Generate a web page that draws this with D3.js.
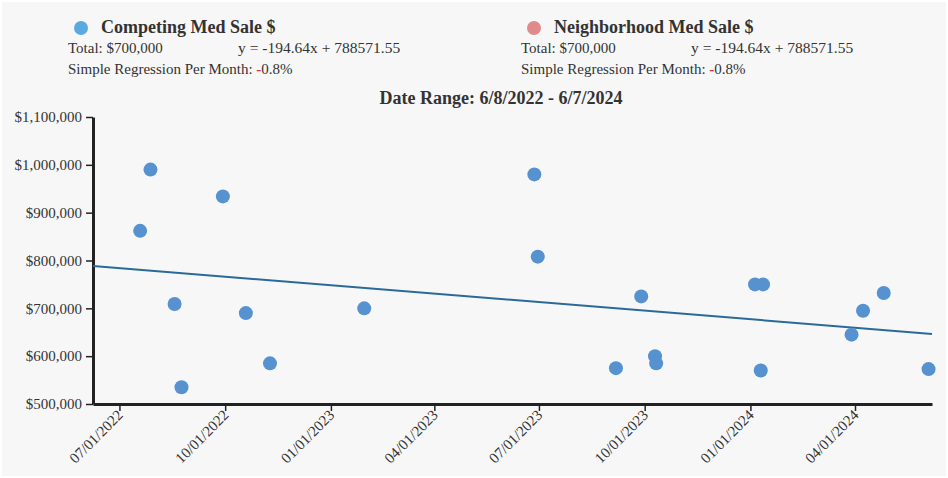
<!DOCTYPE html>
<html>
<head>
<meta charset="utf-8">
<script src="https://cdn.jsdelivr.net/npm/d3@7/dist/d3.min.js"></script>
<style>
  html, body { margin: 0; padding: 0; background: #ffffff; }
  svg { display: block; font-family: "Liberation Serif", "Times New Roman", serif; }
</style>
</head>
<body>
<svg id="chart" width="948" height="478"></svg>
<script>
// ---- data ----
const saleDates = ["2022-07-19","2022-07-28","2022-08-18","2022-08-24","2022-09-29","2022-10-19","2022-11-09",
  "2023-01-30","2023-06-27","2023-06-30","2023-09-06","2023-09-28","2023-10-10","2023-10-11",
  "2024-01-05","2024-01-12","2024-01-10","2024-03-29","2024-04-08","2024-04-26","2024-06-04"];
const salePrices = [862000,990000,709000,535000,934000,690000,585000,
  700000,980000,808000,575000,725000,600000,585000,
  750000,750000,570000,645000,695000,732000,573000];
const xTickDates = ["2022-07-01","2022-10-01","2023-01-01","2023-04-01","2023-07-01","2023-10-01","2024-01-01","2024-04-01"];
const yTickValues = [500000,600000,700000,800000,900000,1000000,1100000];
const dateRange = ["2022-06-08","2024-06-07"];
const regSlope = -194.64;        // per day
const regIntercept = 788571.55;
const seriesNames = ["Competing Med Sale $","Neighborhood Med Sale $"];
const seriesTotals = ["$700,000","$700,000"];
const seriesEquations = ["y = -194.64x + 788571.55","y = -194.64x + 788571.55"];
const seriesMonthly = ["0.8%","0.8%"];
const seriesColors = ["#5aaae0","#e08a8a"];

// ---- setup ----
const FONT = "'Liberation Serif', 'Times New Roman', serif";
const parse = d3.timeParse("%Y-%m-%d");
const svg = d3.select("#chart");
svg.append("rect").attr("x",2).attr("y",2).attr("width",944).attr("height",474).attr("fill","#f7f7f7");

const x = d3.scaleTime().domain(dateRange.map(parse)).range([93, 932]);
const y = d3.scaleLinear().domain([500000, 1100000]).range([404, 117]);

// ---- legend ----
const legendX = [68, 521];
seriesNames.forEach((name, i) => {
  const g = svg.append("g").attr("transform", `translate(${legendX[i]},0)`).attr("font-family", FONT);
  g.append("circle").attr("cx", 13).attr("cy", 28).attr("r", 7).attr("fill", seriesColors[i]);
  g.append("text").attr("x", 33).attr("y", 33).attr("font-size", 18).attr("font-weight", "bold")
    .attr("fill", "#333").text(name);
  g.append("text").attr("x", 0).attr("y", 53).attr("font-size", 15).attr("fill", "#333").text("Total: " + seriesTotals[i]);
  g.append("text").attr("x", 170).attr("y", 53).attr("font-size", 15.5).attr("fill", "#333").text(seriesEquations[i]);
  const t = g.append("text").attr("x", 0).attr("y", 74).attr("font-size", 15).attr("fill", "#333");
  t.append("tspan").text("Simple Regression Per Month: ");
  t.append("tspan").attr("fill", "#e8303a").attr("font-weight", "bold").text("-");
  t.append("tspan").text(seriesMonthly[i]);
});

// ---- title ----
svg.append("text").attr("x", 501).attr("y", 104).attr("text-anchor", "middle")
  .attr("font-family", FONT).attr("font-size", 18).attr("font-weight", "bold").attr("fill", "#333")
  .text("Date Range: 6/8/2022 - 6/7/2024");

// ---- axes ----
const yAxis = svg.append("g").attr("transform", "translate(93,0)")
  .call(d3.axisLeft(y).tickValues(yTickValues).tickFormat(d3.format("$,")).tickSize(7).tickSizeOuter(0));
yAxis.selectAll("text").attr("font-size", 15).attr("fill", "#333").attr("font-family", FONT).attr("dx", "-1");

const xAxis = svg.append("g").attr("transform", "translate(0,404)")
  .call(d3.axisBottom(x).tickValues(xTickDates.map(parse)).tickFormat(d3.timeFormat("%m/%d/%Y")).tickSize(7).tickSizeOuter(0));
xAxis.selectAll("text").attr("font-size", 15).attr("fill", "#333").attr("font-family", FONT)
  .attr("text-anchor", "end").attr("y", 0).attr("dy", 0).attr("dx", 0)
  .attr("transform", "translate(4,12) rotate(-45)");

[yAxis, xAxis].forEach(a => {
  a.select(".domain").attr("stroke", "#222").attr("stroke-width", 3);
  a.selectAll(".tick line").attr("stroke", "#222").attr("stroke-width", 1.5);
});

// ---- regression line ----
const d0 = parse(dateRange[0]), d1 = parse(dateRange[1]);
const days = (d1 - d0) / 86400000;
svg.append("line")
  .attr("x1", x(d0)).attr("y1", y(regIntercept))
  .attr("x2", x(d1)).attr("y2", y(regIntercept + regSlope * days))
  .attr("stroke", "#2a6a98").attr("stroke-width", 2);

// ---- points ----
svg.append("g").selectAll("circle").data(saleDates.map((d, i) => ({ d: parse(d), v: salePrices[i] })))
  .join("circle")
  .attr("cx", p => x(p.d)).attr("cy", p => y(p.v)).attr("r", 7)
  .attr("fill", "#5592cf");
</script>
</body>
</html>
